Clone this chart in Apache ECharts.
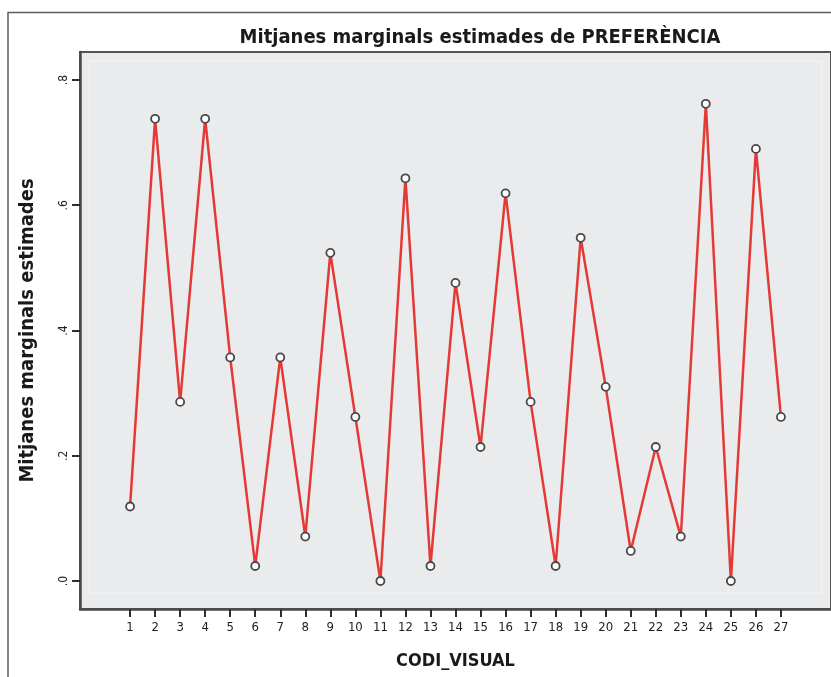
<!DOCTYPE html>
<html>
<head>
<meta charset="utf-8">
<script src="https://cdn.jsdelivr.net/npm/echarts@6/dist/echarts.min.js"></script>
<style>
  html, body { margin: 0; padding: 0; background: #ffffff; }
  #chart { width: 831px; height: 677px; }
</style>
</head>
<body>
<div id="chart"></div>
<script>
// ---- data ----
const categories = [1,2,3,4,5,6,7,8,9,10,11,12,13,14,15,16,17,18,19,20,21,22,23,24,25,26,27];
const values = [0.119, 0.738, 0.286, 0.738, 0.357, 0.024, 0.357, 0.071, 0.524, 0.262,
                0.000, 0.643, 0.024, 0.476, 0.214, 0.619, 0.286, 0.024, 0.548, 0.310,
                0.048, 0.214, 0.071, 0.762, 0.000, 0.690, 0.262];
const yTickValues = [0, 0.2, 0.4, 0.6, 0.8];
const yTickLabels = ['.0', '.2', '.4', '.6', '.8'];
const titleText = 'Mitjanes marginals estimades de PREFERÈNCIA';
const yTitle = 'Mitjanes marginals estimades';
const xTitle = 'CODI_VISUAL';

const font = "'Liberation Sans Narrow', 'DejaVu Sans Condensed', 'Liberation Sans', sans-serif";
const seriesData = categories.map((c, i) => [c, values[i]]);

const chart = echarts.init(document.getElementById('chart'), null, { renderer: 'canvas' });
chart.setOption({
  backgroundColor: '#ffffff',
  animation: false,
  title: {
    text: titleText,
    left: 475,
    top: 23,
    textAlign: 'center',
    textStyle: { fontFamily: font, fontWeight: 'bold', fontSize: 20, color: '#1a1a1a' }
  },
  graphic: [
    { type: 'rect', silent: true, z: 100,
      shape: { x: 8, y: 12.5, width: 840, height: 700 },
      style: { fill: 'none', stroke: '#5c5c5c', lineWidth: 1.5 } },
    { type: 'rect', silent: true, z: 1,
      shape: { x: 89, y: 61, width: 733, height: 532 },
      style: { fill: 'none', stroke: '#f3f4f5', lineWidth: 1 } }
  ],
  grid: {
    left: 80, top: 52, right: -6, bottom: 68,
    show: true, backgroundColor: '#e9ebed', borderColor: '#555555', borderWidth: 2,
    containLabel: false
  },
  xAxis: {
    type: 'value', min: -1, max: 29,
    name: xTitle, nameLocation: 'middle', nameGap: 43,
    nameTextStyle: { fontFamily: font, fontWeight: 'bold', fontSize: 18, color: '#1a1a1a' },
    axisLine: { show: true, onZero: false, lineStyle: { color: '#4a4a4a', width: 2.5 } },
    axisTick: { show: true, inside: false, length: 8, customValues: categories, lineStyle: { color: '#2e2e2e', width: 2 } },
    axisLabel: { customValues: categories, margin: 12, fontFamily: font, fontSize: 13, color: '#222222',
                 formatter: v => String(v) },
    splitLine: { show: false }
  },
  yAxis: {
    type: 'value', min: -0.0447, max: 0.8447,
    name: yTitle, nameLocation: 'middle', nameGap: 42, nameRotate: 90,
    nameTextStyle: { fontFamily: font, fontWeight: 'bold', fontSize: 20, color: '#1a1a1a' },
    axisLine: { show: true, onZero: false, lineStyle: { color: '#4a4a4a', width: 2.5 } },
    axisTick: { show: true, inside: false, length: 8, customValues: yTickValues, lineStyle: { color: '#2e2e2e', width: 2 } },
    axisLabel: { customValues: yTickValues, rotate: 90, margin: 10, fontFamily: font, fontSize: 12, color: '#222222',
                 formatter: v => { const i = yTickValues.findIndex(t => Math.abs(t - v) < 1e-6); return i >= 0 ? yTickLabels[i] : ''; } },
    splitLine: { show: false }
  },
  series: [{
    type: 'line',
    data: seriesData,
    symbol: 'circle',
    symbolSize: 8,
    lineStyle: { color: '#e53935', width: 2.5 },
    itemStyle: { color: '#ffffff', borderColor: '#4a4a4a', borderWidth: 1.8 },
    z: 3
  }]
});
</script>
</body>
</html>
